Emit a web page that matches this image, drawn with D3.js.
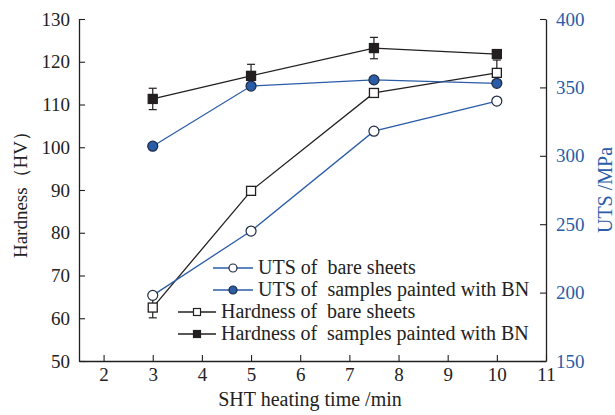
<!DOCTYPE html>
<html>
<head>
<meta charset="utf-8">
<script src="https://cdn.jsdelivr.net/npm/d3@7"></script>
<style>
  html, body { margin: 0; padding: 0; background: #fff; }
  svg text { font-family: "Liberation Serif", "Times New Roman", serif !important; white-space: pre; }
</style>
</head>
<body>
<svg id="chart" width="615" height="415"></svg>
<script>
// Heating times (min)
const times = [3, 5, 7.5, 10];

// Hardness (HV), left axis
const hardnessBare = [62.5, 89.8, 112.7, 117.4];
const hardnessBareErr = [2.4, 0, 0, 3];
const hardnessBN = [111.3, 116.7, 123.2, 121.8];
const hardnessBNErr = [2.5, 2.7, 2.5, 0];

// UTS (MPa), right axis
const utsBare = [198, 245, 318, 340];
const utsBN = [307, 351, 355.5, 353];

const xTicks = [2, 3, 4, 5, 6, 7, 8, 9, 10, 11];
const hardTicks = [50, 60, 70, 80, 90, 100, 110, 120, 130];
const utsTicks = [150, 200, 250, 300, 350, 400];

const legendLabels = [
  "UTS of  bare sheets",
  "UTS of  samples painted with BN",
  "Hardness of  bare sheets",
  "Hardness of  samples painted with BN"
];

const BLUE = "#2b5ca8";
const BLACK = "#231f20";
const SERIF = "Liberation Serif, Times New Roman, serif";

const svg = d3.select("#chart");
const mLeft = 79, mRight = 546, mTop = 19, mBottom = 361;

const x = d3.scaleLinear().domain([1.5, 11]).range([mLeft, mRight]);
const yH = d3.scaleLinear().domain([50, 130]).range([mBottom, mTop]);
const yU = d3.scaleLinear().domain([150, 400]).range([mBottom, mTop]);

// Axes (ticks point inward)
const xAxis = svg.append("g").attr("transform", `translate(0,${mBottom})`)
  .call(d3.axisBottom(x).tickValues(xTicks).tickSizeInner(-6).tickSizeOuter(0).tickPadding(7));
const yAxisL = svg.append("g").attr("transform", `translate(${mLeft},0)`)
  .call(d3.axisLeft(yH).tickValues(hardTicks).tickSizeInner(-6).tickSizeOuter(0).tickPadding(9));
const yAxisR = svg.append("g").attr("transform", `translate(${mRight},0)`)
  .call(d3.axisRight(yU).tickValues(utsTicks).tickSizeInner(-6).tickSizeOuter(0).tickPadding(10));

[xAxis, yAxisL, yAxisR].forEach(g => {
  g.attr("font-family", SERIF).attr("font-size", 19);
  g.select(".domain").attr("stroke", BLACK).attr("stroke-width", 1.3);
  g.selectAll(".tick line").attr("stroke", BLACK).attr("stroke-width", 1.1);
  g.selectAll(".tick text").attr("fill", "#222");
});
yAxisR.selectAll(".tick text").attr("fill", BLUE);

// Axis titles
svg.append("text")
  .attr("transform", `translate(27,${(mTop + mBottom) / 2}) rotate(-90)`)
  .attr("text-anchor", "middle").attr("font-size", 19).attr("fill", "#222")
  .text("Hardness（HV）");
svg.append("text")
  .attr("transform", `translate(612,${(mTop + mBottom) / 2}) rotate(-90)`)
  .attr("text-anchor", "middle").attr("font-size", 20).attr("fill", BLUE)
  .text("UTS /MPa");
svg.append("text")
  .attr("x", 310).attr("y", 406)
  .attr("text-anchor", "middle").attr("font-size", 20).attr("fill", "#222")
  .text("SHT heating time /min");

const plot = svg.append("g");

function series(values, yScale, color) {
  const pts = times.map((t, i) => ({ t, v: values[i] }));
  plot.append("path").datum(pts)
    .attr("fill", "none").attr("stroke", color).attr("stroke-width", 1.3)
    .attr("d", d3.line().x(d => x(d.t)).y(d => yScale(d.v)));
  return pts;
}

function errorBars(values, errs) {
  times.forEach((t, i) => {
    if (!errs[i]) return;
    const cx = x(t), y1 = yH(values[i] + errs[i]), y2 = yH(values[i] - errs[i]);
    plot.append("line").attr("x1", cx).attr("x2", cx).attr("y1", y1).attr("y2", y2)
      .attr("stroke", BLACK).attr("stroke-width", 1.2);
    [y1, y2].forEach(yy => plot.append("line")
      .attr("x1", cx - 4).attr("x2", cx + 4).attr("y1", yy).attr("y2", yy)
      .attr("stroke", BLACK).attr("stroke-width", 1.2));
  });
}

// Hardness series
errorBars(hardnessBN, hardnessBNErr);
errorBars(hardnessBare, hardnessBareErr);
const hBN = series(hardnessBN, yH, BLACK);
const hBare = series(hardnessBare, yH, BLACK);
// UTS series
const uBN = series(utsBN, yU, BLUE);
const uBare = series(utsBare, yU, BLUE);

function squares(pts, fill) {
  plot.selectAll(null).data(pts).enter().append("rect")
    .attr("x", d => x(d.t) - 4.5).attr("y", d => yH(d.v) - 4.5)
    .attr("width", 9).attr("height", 9)
    .attr("fill", fill).attr("stroke", BLACK).attr("stroke-width", 1.3);
}
function circles(pts, fill) {
  plot.selectAll(null).data(pts).enter().append("circle")
    .attr("cx", d => x(d.t)).attr("cy", d => yU(d.v)).attr("r", 5)
    .attr("fill", fill).attr("stroke", "#1e2a44").attr("stroke-width", 1.2);
}
squares(hBare, "#fff");
squares(hBN, BLACK);
circles(uBare, "#fff");
circles(uBN, BLUE);

// Legend
const legend = svg.append("g");
const legendItems = [
  { label: legendLabels[0], color: BLUE, shape: "circle", fill: "#fff", x0: 213, y: 268 },
  { label: legendLabels[1], color: BLUE, shape: "circle", fill: BLUE, x0: 213, y: 290 },
  { label: legendLabels[2], color: BLACK, shape: "square", fill: "#fff", x0: 178, y: 312 },
  { label: legendLabels[3], color: BLACK, shape: "square", fill: BLACK, x0: 178, y: 334 }
];
legendItems.forEach(it => {
  const len = it.shape === "circle" ? 40 : 38;
  legend.append("line").attr("x1", it.x0).attr("x2", it.x0 + len)
    .attr("y1", it.y).attr("y2", it.y).attr("stroke", it.color).attr("stroke-width", 1.3);
  const mx = it.x0 + len / 2;
  if (it.shape === "circle") {
    legend.append("circle").attr("cx", mx).attr("cy", it.y).attr("r", 4)
      .attr("fill", it.fill).attr("stroke", "#1e2a44").attr("stroke-width", 1.2);
  } else {
    legend.append("rect").attr("x", mx - 3.5).attr("y", it.y - 3.5).attr("width", 7).attr("height", 7)
      .attr("fill", it.fill).attr("stroke", BLACK).attr("stroke-width", 1.2);
  }
  legend.append("text").attr("x", it.x0 + len + 5).attr("y", it.y + 6)
    .attr("font-size", 20).attr("fill", "#222").text(it.label);
});
</script>
</body>
</html>
